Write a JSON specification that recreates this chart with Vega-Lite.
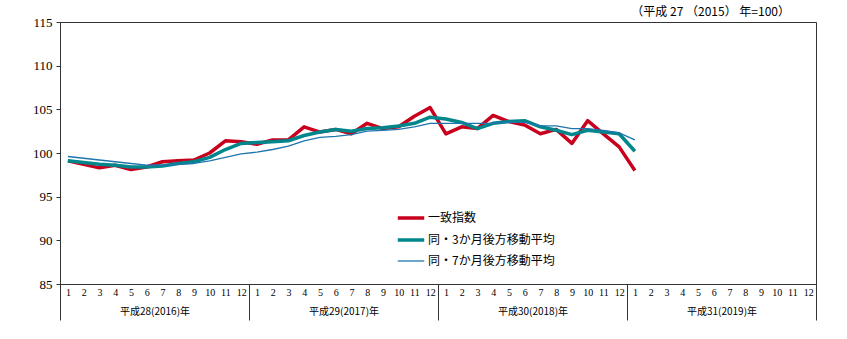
{
  "$schema": "https://vega.github.io/schema/vega-lite/v6.json",
  "autosize": {"type": "none"},
  "width": 756,
  "height": 262,
  "padding": {"left": 60, "top": 22, "right": 31, "bottom": 55},
  "background": "white",
  "config": {
    "view": {"stroke": "#333", "strokeWidth": 1},
    "axis": {"grid": false, "domainColor": "#333", "tickColor": "#333", "labelColor": "#000"}
  },
  "title": {"text": "（平成 27 （2015） 年=100）", "anchor": "end", "frame": "group", "font": "Noto Sans CJK JP", "fontSize": 12, "fontWeight": "normal", "color": "#000", "dx": -26, "offset": -3},
  "data": {"values": [
    {"i":0,"s":"一致指数","v":99.1},{"i":1,"s":"一致指数","v":98.7},{"i":2,"s":"一致指数","v":98.3},{"i":3,"s":"一致指数","v":98.6},{"i":4,"s":"一致指数","v":98.1},{"i":5,"s":"一致指数","v":98.4},{"i":6,"s":"一致指数","v":99.0},{"i":7,"s":"一致指数","v":99.1},{"i":8,"s":"一致指数","v":99.2},{"i":9,"s":"一致指数","v":100.0},{"i":10,"s":"一致指数","v":101.4},{"i":11,"s":"一致指数","v":101.3},
    {"i":12,"s":"一致指数","v":101.0},{"i":13,"s":"一致指数","v":101.5},{"i":14,"s":"一致指数","v":101.5},{"i":15,"s":"一致指数","v":103.0},{"i":16,"s":"一致指数","v":102.4},{"i":17,"s":"一致指数","v":102.7},{"i":18,"s":"一致指数","v":102.2},{"i":19,"s":"一致指数","v":103.4},{"i":20,"s":"一致指数","v":102.8},{"i":21,"s":"一致指数","v":103.0},{"i":22,"s":"一致指数","v":104.2},{"i":23,"s":"一致指数","v":105.2},
    {"i":24,"s":"一致指数","v":102.2},{"i":25,"s":"一致指数","v":103.0},{"i":26,"s":"一致指数","v":102.8},{"i":27,"s":"一致指数","v":104.3},{"i":28,"s":"一致指数","v":103.6},{"i":29,"s":"一致指数","v":103.2},{"i":30,"s":"一致指数","v":102.2},{"i":31,"s":"一致指数","v":102.7},{"i":32,"s":"一致指数","v":101.1},{"i":33,"s":"一致指数","v":103.7},{"i":34,"s":"一致指数","v":102.2},{"i":35,"s":"一致指数","v":100.7},
    {"i":36,"s":"一致指数","v":98.0},
    {"i":0,"s":"同・3か月後方移動平均","v":99.1},{"i":1,"s":"同・3か月後方移動平均","v":98.9},{"i":2,"s":"同・3か月後方移動平均","v":98.7},{"i":3,"s":"同・3か月後方移動平均","v":98.6},{"i":4,"s":"同・3か月後方移動平均","v":98.4},{"i":5,"s":"同・3か月後方移動平均","v":98.4},{"i":6,"s":"同・3か月後方移動平均","v":98.5},{"i":7,"s":"同・3か月後方移動平均","v":98.8},{"i":8,"s":"同・3か月後方移動平均","v":99.0},{"i":9,"s":"同・3か月後方移動平均","v":99.5},{"i":10,"s":"同・3か月後方移動平均","v":100.4},{"i":11,"s":"同・3か月後方移動平均","v":101.1},
    {"i":12,"s":"同・3か月後方移動平均","v":101.2},{"i":13,"s":"同・3か月後方移動平均","v":101.3},{"i":14,"s":"同・3か月後方移動平均","v":101.4},{"i":15,"s":"同・3か月後方移動平均","v":102.0},{"i":16,"s":"同・3か月後方移動平均","v":102.4},{"i":17,"s":"同・3か月後方移動平均","v":102.7},{"i":18,"s":"同・3か月後方移動平均","v":102.5},{"i":19,"s":"同・3か月後方移動平均","v":102.8},{"i":20,"s":"同・3か月後方移動平均","v":102.9},{"i":21,"s":"同・3か月後方移動平均","v":103.1},{"i":22,"s":"同・3か月後方移動平均","v":103.4},{"i":23,"s":"同・3か月後方移動平均","v":104.1},
    {"i":24,"s":"同・3か月後方移動平均","v":103.9},{"i":25,"s":"同・3か月後方移動平均","v":103.5},{"i":26,"s":"同・3か月後方移動平均","v":102.8},{"i":27,"s":"同・3か月後方移動平均","v":103.4},{"i":28,"s":"同・3か月後方移動平均","v":103.6},{"i":29,"s":"同・3か月後方移動平均","v":103.7},{"i":30,"s":"同・3か月後方移動平均","v":103.0},{"i":31,"s":"同・3か月後方移動平均","v":102.6},{"i":32,"s":"同・3か月後方移動平均","v":102.1},{"i":33,"s":"同・3か月後方移動平均","v":102.6},{"i":34,"s":"同・3か月後方移動平均","v":102.4},{"i":35,"s":"同・3か月後方移動平均","v":102.2},
    {"i":36,"s":"同・3か月後方移動平均","v":100.2},
    {"i":0,"s":"同・7か月後方移動平均","v":99.6},{"i":1,"s":"同・7か月後方移動平均","v":99.4},{"i":2,"s":"同・7か月後方移動平均","v":99.2},{"i":3,"s":"同・7か月後方移動平均","v":99.0},{"i":4,"s":"同・7か月後方移動平均","v":98.8},{"i":5,"s":"同・7か月後方移動平均","v":98.6},{"i":6,"s":"同・7か月後方移動平均","v":98.6},{"i":7,"s":"同・7か月後方移動平均","v":98.7},{"i":8,"s":"同・7か月後方移動平均","v":98.8},{"i":9,"s":"同・7か月後方移動平均","v":99.1},{"i":10,"s":"同・7か月後方移動平均","v":99.5},{"i":11,"s":"同・7か月後方移動平均","v":99.9},
    {"i":12,"s":"同・7か月後方移動平均","v":100.1},{"i":13,"s":"同・7か月後方移動平均","v":100.4},{"i":14,"s":"同・7か月後方移動平均","v":100.8},{"i":15,"s":"同・7か月後方移動平均","v":101.4},{"i":16,"s":"同・7か月後方移動平均","v":101.8},{"i":17,"s":"同・7か月後方移動平均","v":101.9},{"i":18,"s":"同・7か月後方移動平均","v":102.1},{"i":19,"s":"同・7か月後方移動平均","v":102.5},{"i":20,"s":"同・7か月後方移動平均","v":102.6},{"i":21,"s":"同・7か月後方移動平均","v":102.7},{"i":22,"s":"同・7か月後方移動平均","v":103.0},{"i":23,"s":"同・7か月後方移動平均","v":103.4},
    {"i":24,"s":"同・7か月後方移動平均","v":103.4},{"i":25,"s":"同・7か月後方移動平均","v":103.4},{"i":26,"s":"同・7か月後方移動平均","v":103.4},{"i":27,"s":"同・7か月後方移動平均","v":103.4},{"i":28,"s":"同・7か月後方移動平均","v":103.5},{"i":29,"s":"同・7か月後方移動平均","v":103.5},{"i":30,"s":"同・7か月後方移動平均","v":103.1},{"i":31,"s":"同・7か月後方移動平均","v":103.1},{"i":32,"s":"同・7か月後方移動平均","v":102.8},{"i":33,"s":"同・7か月後方移動平均","v":102.8},{"i":34,"s":"同・7か月後方移動平均","v":102.6},{"i":35,"s":"同・7か月後方移動平均","v":102.3},
    {"i":36,"s":"同・7か月後方移動平均","v":101.5}
  ]},
  "layer": [
    {
      "mark": {"type": "point", "opacity": 0},
      "encoding": {
        "x": {"field": "i", "type": "quantitative", "scale": {"domain": [-0.5, 47.5], "nice": false, "zero": false},
              "axis": {"orient": "bottom", "values": [-0.5, 11.5, 23.5, 35.5, 47.5], "labels": false, "domain": false, "ticks": true, "tickSize": 36, "tickColor": "#333", "title": null}},
        "y": {"field": "v", "type": "quantitative", "axis": null}
      }
    },
    {
      "mark": {"type": "point", "opacity": 0},
      "encoding": {
        "x": {"field": "i", "type": "quantitative",
              "axis": {"orient": "bottom", "values": [5.5, 17.5, 29.5, 41.5], "ticks": false, "domain": false, "labelPadding": 22, "labelFont": "Noto Sans CJK JP", "labelFontSize": 10, "title": null,
                       "labelExpr": "datum.value == 5.5 ? '平成28(2016)年' : datum.value == 17.5 ? '平成29(2017)年' : datum.value == 29.5 ? '平成30(2018)年' : '平成31(2019)年'"}},
        "y": {"field": "v", "type": "quantitative", "axis": null}
      }
    },
    {
      "mark": {"type": "line", "strokeJoin": "round"},
      "encoding": {
        "x": {"field": "i", "type": "quantitative",
              "axis": {"orient": "bottom", "values": [0,1,2,3,4,5,6,7,8,9,10,11,12,13,14,15,16,17,18,19,20,21,22,23,24,25,26,27,28,29,30,31,32,33,34,35,36,37,38,39,40,41,42,43,44,45,46,47],
                       "labelExpr": "'' + ((datum.value % 12) + 1)", "ticks": false, "labelPadding": 3, "labelFont": "Liberation Serif", "labelFontSize": 10, "labelOverlap": false, "title": null, "domainColor": "#333"}},
        "y": {"field": "v", "type": "quantitative", "scale": {"domain": [85, 115], "nice": false, "zero": false},
              "axis": {"orient": "left", "values": [85, 90, 95, 100, 105, 110, 115], "title": null, "tickSize": 4, "labelPadding": 4, "labelFont": "Liberation Serif", "labelFontSize": 13, "domainColor": "#333"}},
        "color": {"field": "s", "type": "nominal",
                  "scale": {"domain": ["一致指数", "同・3か月後方移動平均", "同・7か月後方移動平均"], "range": ["#C8001E", "#00868B", "#1F75AE"]},
                  "legend": {"title": null, "orient": "none", "legendX": 336, "legendY": 181, "symbolType": "stroke", "symbolSize": 700, "labelFont": "Noto Sans CJK JP", "labelFontSize": 12, "labelColor": "#000", "rowPadding": -5, "labelOffset": 2}},
        "strokeWidth": {"field": "s", "type": "nominal",
                        "scale": {"type": "ordinal", "domain": ["一致指数", "同・3か月後方移動平均", "同・7か月後方移動平均"], "range": [3.5, 3.5, 1.3]},
                        "legend": {"title": null, "orient": "none", "legendX": 336, "legendY": 181, "symbolType": "stroke", "symbolSize": 700, "labelFont": "Noto Sans CJK JP", "labelFontSize": 12, "labelColor": "#000", "rowPadding": -5, "labelOffset": 2}}
      }
    }
  ],
  "resolve": {"axis": {"x": "independent", "y": "independent"}}
}
